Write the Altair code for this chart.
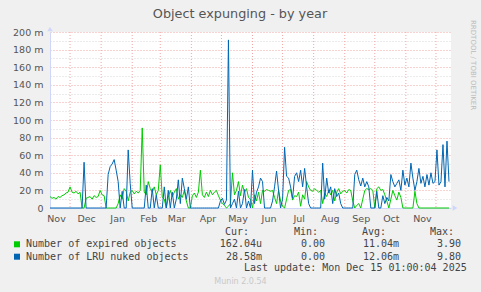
import altair as alt
import pandas as pd

# ---------------- data ----------------
start_date = "2024-11-11"
end_date = "2025-12-16"
step_days = 2

expired = [
    13, 11, 12, 10, 13, 12, 14, 15, 17, 18,
    24, 18, 17, 19, 16, 18, 0, 0, 11, 12,
    13, 10, 14, 12, 13, 20, 15, 14, 0, 0,
    0, 0, 0, 0, 5, 15, 10, 22, 19, 8,
    18, 20, 16, 19, 17, 20, 91, 18, 15, 30,
    22, 18, 24, 15, 20, 49, 12, 10, 0, 12,
    20, 13, 18, 22, 10, 15, 12, 20, 8, 0,
    0, 14, 17, 12, 18, 43, 15, 12, 18, 13,
    20, 15, 18, 20, 14, 9, 5, 3, 0, 2,
    5, 40, 15, 20, 30, 14, 26, 18, 22, 12,
    10, 0, 15, 8, 18, 5, 20, 19, 21, 20,
    19, 20, 12, 5, 20, 8, 2, 0, 10, 20,
    21, 9, 14, 13, 18, 2, 15, 10, 30, 24,
    20, 19, 22, 20, 18, 20, 5, 17, 13, 20,
    15, 20, 8, 18, 22, 16, 19, 20, 17, 21,
    20, 8, 0, 3, 5, 0, 10, 20, 22, 21,
    22, 20, 0, 22, 24, 20, 21, 15, 8, 0,
    10, 20, 14, 9, 18, 12, 0, 0, 0, 0,
    0, 0, 19, 5, 0, 0, 0, 0, 0, 0,
    0, 0, 0, 0, 0, 0, 0, 0, 0, 0,
]

lru_nuked = [
    0, 0, 0, 0, 0, 0, 0, 0, 0, 0,
    0, 0, 0, 0, 0, 0, 0, 52, 0, 0,
    0, 0, 0, 0, 0, 0, 0, 0, 0, 38,
    47, 50, 55, 43, 30, 0, 19, 0, 0, 66,
    28, 0, 0, 0, 0, 0, 0, 0, 26, 0,
    0, 22, 0, 15, 0, 0, 0, 24, 0, 20,
    0, 18, 0, 10, 32, 5, 34, 22, 10, 24,
    0, 0, 0, 0, 0, 0, 0, 0, 0, 0,
    0, 0, 0, 0, 0, 8, 11, 4, 9, 191,
    0, 5, 10, 0, 19, 0, 5, 21, 0, 8,
    0, 43, 5, 18, 24, 34, 30, 0, 0, 0,
    0, 8, 24, 42, 20, 0, 10, 69, 36, 34,
    24, 11, 36, 40, 30, 43, 24, 45, 24, 5,
    0, 0, 0, 0, 0, 0, 51, 10, 34, 17,
    24, 5, 22, 13, 17, 5, 0, 0, 0, 0,
    0, 0, 38, 43, 32, 25, 34, 24, 30, 24,
    0, 0, 0, 19, 0, 0, 14, 5, 12, 8,
    38, 30, 24, 28, 32, 20, 43, 26, 34, 24,
    51, 34, 20, 30, 45, 28, 36, 24, 38, 26,
    40, 28, 30, 66, 26, 30, 72, 24, 76, 30,
]

month_starts = [
    "2024-12-01", "2025-01-01", "2025-02-01", "2025-03-01", "2025-04-01",
    "2025-05-01", "2025-06-01", "2025-07-01", "2025-08-01", "2025-09-01",
    "2025-10-01", "2025-11-01", "2025-12-01",
]
# month label anchors (labels sit mid-month, as rrdtool draws them)
label_months = [(2024, 11), (2024, 12)] + [(2025, m) for m in range(1, 12)]
label_day = 17

y_values = list(range(0, 201, 10))

title_text = "Object expunging - by year"
side_text = "RRDTOOL / TOBI OETIKER"
legend_headers = ["Cur:", "Min:", "Avg:", "Max:"]
legend_labels = ["Number of expired objects", "Number of LRU nuked objects"]
legend_colors = ["#00CC00", "#0066B3"]
cur_vals = ["162.04u", "28.58m"]
min_vals = ["0.00", "0.00"]
avg_vals = ["11.04m", "12.06m"]
max_vals = ["3.90", "9.80"]
last_update = "Last update: Mon Dec 15 01:00:04 2025"
version_text = "Munin 2.0.54"

# ---------------- tables ----------------
dates = pd.date_range(start_date, periods=len(expired), freq=f"{step_days}D").strftime("%Y-%m-%d")
df_exp = pd.DataFrame({"date": dates, "v": expired})
df_lru = pd.DataFrame({"date": dates, "v": lru_nuked})
df_months = pd.DataFrame({"date": month_starts})

W, H = 401, 176
AXIS_COL = "#CFD6F8"
MGRID = "#F2A4A4"
GRID = "#D6D6D6"

x_enc = alt.X(
    "date:T",
    scale=alt.Scale(
        type="utc",
        domain=[alt.DateTime(year=2024, month=11, date=11, utc=True),
                alt.DateTime(year=2025, month=12, date=16, utc=True)],
        nice=False,
    ),
    axis=alt.Axis(
        values=[alt.DateTime(year=y, month=m, date=label_day, utc=True) for y, m in label_months],
        labelExpr="utcFormat(datum.value, '%b')",
        grid=False, ticks=False, domainColor=AXIS_COL, domainWidth=1,
        labelFont="DejaVu Sans", labelFontSize=9.5, labelColor="#555555",
        labelPadding=5, labelOverlap=False, title=None,
    ),
)
y_enc = alt.Y(
    "v:Q",
    scale=alt.Scale(domain=[0, 200], nice=False),
    axis=alt.Axis(
        values=y_values,
        labelExpr="datum.value % 20 == 0 ? (datum.value == 0 ? '0' : datum.value + ' m') : ''",
        gridColor={"condition": {"test": "datum.value % 20 == 0", "value": MGRID}, "value": GRID},
        gridDash=[1, 2], gridWidth=1,
        ticks=False, domainColor=AXIS_COL, domainWidth=1,
        labelFont="DejaVu Sans", labelFontSize=9.5, labelColor="#555555",
        labelPadding=7, labelOverlap=False, title=None,
    ),
)

rules = alt.Chart(df_months).mark_rule(color=MGRID, strokeDash=[1, 2], strokeWidth=1).encode(x=x_enc)
line_exp = alt.Chart(df_exp).mark_line(color="#00CC00", strokeWidth=1).encode(x=x_enc, y=y_enc)
line_lru = alt.Chart(df_lru).mark_line(color="#0066B3", strokeWidth=1).encode(x=x_enc, y=y_enc)


def txt(s, px, py, size=10, font="DejaVu Sans Mono", color="#444444", align="left", angle=0, baseline="middle"):
    kw = dict(font=font, fontSize=size, color=color, align=align, baseline=baseline)
    if angle:
        kw["angle"] = angle
    return alt.Chart(pd.DataFrame({"t": [s]})).mark_text(**kw).encode(
        x=alt.value(px - 50), y=alt.value(py - 32), text="t:N"
    )


texts = []
texts.append(txt(title_text, 240, 18.3, size=12.8, font="DejaVu Sans", color="#555555",
                 align="center", baseline="alphabetic"))
texts.append(txt(side_text, 472.5, 20, size=7, font="DejaVu Sans", color="#BBBBBB", angle=90))
header_right = [249, 318, 386, 454]
for h, xr in zip(legend_headers, header_right):
    texts.append(txt(h, xr, 232, align="right"))
row_y = [244.3, 256.7]
col_right = [262, 325, 399, 461]
for i, lab in enumerate(legend_labels):
    texts.append(txt(lab, 26, row_y[i]))
    for vals, xr in zip([cur_vals, min_vals, avg_vals, max_vals], col_right):
        texts.append(txt(vals[i], xr, row_y[i], align="right"))
texts.append(txt(last_update, 466.7, 268.3, align="right"))
texts.append(txt(version_text, 240.5, 281.7, size=8, font="DejaVu Sans", color="#C8C8C8", align="center"))

squares = []
for i, c in enumerate(legend_colors):
    squares.append(
        alt.Chart(pd.DataFrame({"s": [legend_labels[i]]})).mark_square(color=c, size=36, opacity=1, filled=True)
        .encode(x=alt.value(17 - 50), y=alt.value(row_y[i] - 32))
    )

arrows = [
    alt.Chart(pd.DataFrame({"a": ["y"]})).mark_point(shape="triangle-up", filled=True, color=AXIS_COL, size=30, opacity=1)
    .encode(x=alt.value(0), y=alt.value(-3)),
    alt.Chart(pd.DataFrame({"a": ["x"]})).mark_point(shape="triangle-right", filled=True, color=AXIS_COL, size=30, opacity=1)
    .encode(x=alt.value(W + 4), y=alt.value(H)),
]

chart = alt.layer(rules, line_exp, line_lru, *arrows, *squares, *texts).properties(
    width=W, height=H,
    autosize=alt.AutoSizeParams(type="none"),
    padding={"left": 50, "top": 32, "right": 30, "bottom": 84},
    background="#F0F0F0",
).configure_view(fill="white", stroke=None)

chart.save("out.html", embed_options={"renderer": "svg", "actions": False})
